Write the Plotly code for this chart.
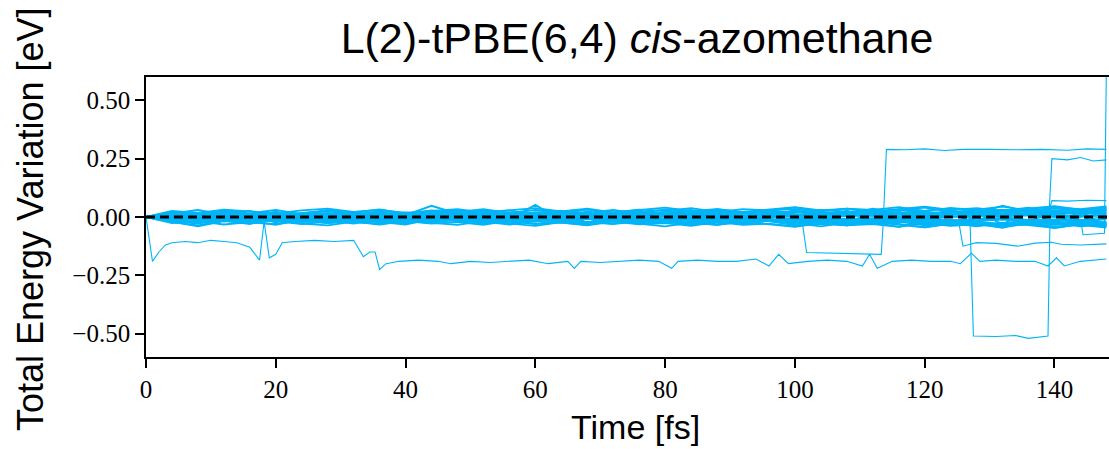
import plotly.graph_objects as go

# ---- shared time grid for the trajectories that stay in the band (fs) ----
t_band = [0, 4, 8, 12, 16, 20, 24, 28, 32, 36,
          40, 44, 48, 52, 56, 60, 64, 68, 72, 76,
          80, 84, 88, 92, 96, 100, 104, 108, 112, 116,
          120, 124, 128, 132, 136, 140, 144, 148]

band_1 = [0, 0.012, 0.008, -0.005, 0.015, 0.010, -0.008, 0.004, 0.018, 0.006,
          -0.010, 0.012, 0.020, 0.005, -0.004, 0.014, 0.022, 0.008, -0.006, 0.010,
          0.018, 0.012, 0.002, 0.016, 0.024, 0.010, 0.004, 0.018, 0.026, 0.012,
          0.006, 0.020, 0.028, 0.014, 0.008, 0.022, 0.030, 0.018]
band_2 = [0, -0.010, -0.004, 0.006, -0.014, -0.008, 0.004, -0.012, -0.018, -0.006,
          0.002, -0.016, -0.010, 0.000, -0.012, -0.020, -0.008, 0.004, -0.014, -0.022,
          -0.010, -0.002, -0.016, -0.024, -0.012, -0.004, -0.018, -0.026, -0.014, -0.006,
          -0.020, -0.028, -0.016, -0.008, -0.022, -0.030, -0.018, -0.010]
band_3 = [0, 0.020, 0.004, 0.014, 0.026, 0.002, 0.010, 0.030, 0.012, 0.000,
          0.016, 0.024, 0.006, 0.018, 0.028, 0.008, 0.012, 0.034, 0.014, 0.004,
          0.020, 0.030, 0.010, 0.016, 0.026, 0.012, 0.008, 0.022, 0.032, 0.014,
          0.010, 0.024, 0.018, 0.026, 0.040, 0.020, 0.016, 0.028]
band_4 = [0, -0.022, -0.036, -0.016, -0.030, -0.004, -0.012, -0.026, -0.010, -0.020,
          -0.032, -0.008, -0.018, -0.028, -0.012, -0.006, -0.024, -0.034, -0.014, -0.010,
          -0.026, -0.020, -0.008, -0.030, -0.016, -0.012, -0.028, -0.036, -0.018, -0.014,
          -0.032, -0.024, -0.040, -0.026, -0.018, -0.034, -0.022, -0.030]
band_5 = [0, 0.006, -0.002, 0.004, 0.000, 0.008, -0.004, 0.002, 0.006, -0.006,
          0.004, 0.010, 0.000, -0.004, 0.008, 0.002, -0.002, 0.006, 0.012, 0.000,
          0.004, 0.008, -0.004, 0.006, 0.010, 0.002, -0.002, 0.008, 0.012, 0.004,
          0.000, 0.010, 0.006, 0.002, 0.012, 0.008, 0.004, 0.010]
band_6 = [0, -0.006, 0.002, -0.004, -0.008, 0.000, -0.006, 0.004, -0.002, -0.010,
          -0.004, 0.002, -0.008, -0.012, -0.002, 0.000, -0.006, -0.010, -0.004, 0.002,
          -0.008, -0.012, -0.006, -0.002, -0.010, -0.014, -0.004, -0.008, -0.012, -0.006,
          -0.010, -0.016, -0.008, -0.004, -0.012, -0.010, -0.014, -0.008]
band_7 = [0, 0.015, 0.030, 0.010, 0.004, 0.020, 0.012, -0.002, 0.010, 0.024,
          0.008, 0.048, 0.014, 0.010, 0.006, 0.018, 0.012, 0.004, 0.016, 0.024,
          0.010, 0.014, 0.030, 0.016, 0.008, 0.022, 0.014, 0.010, 0.036, 0.018,
          0.012, 0.026, 0.016, 0.048, 0.022, 0.014, 0.020, 0.026]
band_8 = [0, -0.012, -0.026, -0.008, -0.018, -0.034, -0.010, -0.004, -0.020, -0.012,
          -0.028, -0.006, -0.016, -0.024, -0.010, 0.052, -0.014, -0.030, -0.012, -0.006,
          -0.022, -0.016, -0.032, -0.010, -0.018, -0.036, -0.014, -0.008, -0.024, -0.042,
          -0.020, -0.012, -0.028, -0.046, -0.016, -0.022, -0.038, -0.020]
band_9 = [0, 0.010, 0.018, 0.024, 0.012, 0.006, 0.016, 0.028, 0.020, 0.008,
          0.014, 0.022, 0.030, 0.016, 0.010, 0.020, 0.026, 0.014, 0.008, 0.018,
          0.032, 0.022, 0.012, 0.016, 0.028, 0.034, 0.020, 0.014, 0.024, 0.030,
          0.040, 0.022, 0.018, 0.028, 0.036, 0.024, 0.030, 0.042]
band_10 = [0, -0.016, -0.024, -0.012, -0.006, -0.018, -0.030, -0.020, -0.010, -0.014,
           -0.026, -0.016, -0.008, -0.020, -0.032, -0.018, -0.012, -0.022, -0.028, -0.014,
           -0.010, -0.024, -0.034, -0.020, -0.016, -0.026, -0.040, -0.024, -0.018, -0.030,
           -0.044, -0.028, -0.022, -0.034, -0.026, -0.048, -0.030, -0.036]
band_11 = [0, 0.004, 0.010, 0.014, 0.008, 0.016, 0.006, 0.012, 0.018, 0.010,
           0.004, 0.014, 0.008, 0.016, 0.020, 0.012, 0.006, 0.014, 0.010, 0.018,
           0.008, 0.012, 0.020, 0.016, 0.010, 0.006, 0.014, 0.020, 0.012, 0.018,
           0.022, 0.014, 0.010, 0.016, 0.024, 0.018, 0.012, 0.020]
band_12 = [0, -0.004, -0.010, -0.016, -0.008, -0.002, -0.012, -0.018, -0.006, -0.010,
           -0.014, -0.004, -0.012, -0.020, -0.010, -0.006, -0.016, -0.008, -0.014, -0.022,
           -0.012, -0.006, -0.018, -0.010, -0.016, -0.024, -0.014, -0.008, -0.020, -0.012,
           -0.018, -0.026, -0.016, -0.010, -0.022, -0.014, -0.020, -0.028]
band_13 = [0, 0.008, 0.014, 0.006, 0.012, 0.018, 0.010, 0.016, 0.008, 0.014,
           0.020, 0.012, 0.006, 0.016, 0.010, 0.018, 0.012, 0.022, 0.014, 0.008,
           0.018, 0.024, 0.012, 0.020, 0.014, 0.026, 0.016, 0.022, 0.018, 0.028,
           0.020, 0.016, 0.026, 0.030, 0.022, 0.028, 0.024, 0.032]
band_14 = [0, -0.008, -0.014, -0.004, -0.012, -0.018, -0.008, -0.016, -0.010, -0.004,
           -0.014, -0.020, -0.010, -0.016, -0.006, -0.018, -0.012, -0.022, -0.014, -0.010,
           -0.020, -0.016, -0.024, -0.012, -0.018, -0.026, -0.016, -0.022, -0.030, -0.018,
           -0.024, -0.020, -0.028, -0.034, -0.022, -0.026, -0.032, -0.028]
band_15 = [0, 0.002, 0.006, 0.010, 0.004, 0.000, 0.008, 0.012, 0.004, 0.010,
           0.006, 0.002, 0.012, 0.008, 0.004, 0.014, 0.006, 0.010, 0.002, 0.012,
           0.016, 0.006, 0.010, 0.004, 0.014, 0.008, 0.018, 0.012, 0.006, 0.016,
           0.010, 0.020, 0.014, 0.008, 0.018, 0.012, 0.022, 0.016]
band_16 = [0, -0.002, -0.008, -0.004, 0.002, -0.006, -0.010, -0.002, -0.008, 0.000,
           -0.006, -0.012, -0.004, -0.010, -0.002, -0.008, -0.014, -0.006, -0.010, -0.004,
           -0.012, -0.008, -0.016, -0.006, -0.012, -0.018, -0.010, -0.014, -0.008, -0.016,
           -0.020, -0.012, -0.018, -0.010, -0.022, -0.016, -0.012, -0.024]
band_17 = [0, 0.014, 0.006, 0.020, 0.010, 0.002, 0.016, 0.024, 0.012, 0.018,
           0.008, 0.022, 0.014, 0.028, 0.016, 0.010, 0.024, 0.018, 0.030, 0.014,
           0.022, 0.016, 0.034, 0.020, 0.026, 0.018, 0.030, 0.024, 0.016, 0.032,
           0.026, 0.038, 0.022, 0.030, 0.024, 0.036, 0.028, 0.034]
band_18 = [0, -0.014, -0.020, -0.008, -0.024, -0.012, -0.018, -0.006, -0.022, -0.028,
           -0.014, -0.020, -0.010, -0.026, -0.018, -0.030, -0.016, -0.022, -0.012, -0.028,
           -0.020, -0.034, -0.018, -0.026, -0.014, -0.030, -0.022, -0.032, -0.026, -0.020,
           -0.036, -0.028, -0.024, -0.038, -0.030, -0.026, -0.040, -0.032]
band_19 = [0, 0.000, 0.004, -0.002, 0.002, 0.006, -0.004, 0.000, 0.004, 0.002,
           -0.002, 0.006, 0.000, 0.004, -0.004, 0.002, 0.006, 0.000, -0.002, 0.004,
           0.008, 0.002, -0.002, 0.006, 0.002, 0.008, 0.000, 0.004, 0.010, 0.002,
           0.006, 0.000, 0.008, 0.004, 0.010, 0.002, 0.006, 0.008]
band_20 = [0, -0.020, -0.040, -0.018, -0.026, -0.014, -0.022, -0.016, -0.028, -0.010,
           -0.020, -0.024, -0.012, -0.018, -0.026, -0.016, -0.010, -0.022, -0.030, -0.018,
           -0.014, -0.024, -0.020, -0.028, -0.016, -0.022, -0.032, -0.020, -0.026, -0.018,
           -0.030, -0.036, -0.022, -0.028, -0.034, -0.024, -0.030, -0.038]
band_21 = [0, 0.022, 0.010, 0.028, 0.016, 0.030, 0.012, 0.026, 0.020, 0.032,
           0.014, 0.028, 0.022, 0.034, 0.018, 0.030, 0.024, 0.036, 0.020, 0.032,
           0.026, 0.038, 0.022, 0.034, 0.028, 0.040, 0.024, 0.036, 0.030, 0.042,
           0.026, 0.038, 0.032, 0.044, 0.028, 0.040, 0.034, 0.046]
band_22 = [0, -0.018, -0.028, -0.012, -0.024, -0.030, -0.016, -0.026, -0.020, -0.032,
           -0.018, -0.028, -0.022, -0.034, -0.016, -0.030, -0.024, -0.036, -0.020, -0.032,
           -0.026, -0.038, -0.022, -0.034, -0.028, -0.040, -0.024, -0.036, -0.030, -0.042,
           -0.026, -0.038, -0.032, -0.044, -0.028, -0.040, -0.034, -0.046]
band_23 = [0, 0.016, -0.010, 0.020, -0.006, 0.024, -0.012, 0.018, -0.004, 0.026,
           -0.014, 0.022, -0.008, 0.028, -0.010, 0.020, -0.016, 0.024, -0.006, 0.030,
           -0.012, 0.026, -0.018, 0.022, -0.010, 0.032, -0.014, 0.028, -0.020, 0.024,
           -0.016, 0.034, -0.018, 0.030, -0.022, 0.026, -0.020, 0.036]
band_24 = [0, -0.014, 0.012, -0.020, 0.008, -0.024, 0.014, -0.018, 0.006, -0.026,
           0.016, -0.022, 0.010, -0.028, 0.012, -0.020, 0.018, -0.024, 0.008, -0.030,
           0.014, -0.026, 0.020, -0.022, 0.010, -0.032, 0.016, -0.028, 0.022, -0.024,
           0.018, -0.034, 0.020, -0.030, 0.024, -0.026, 0.022, -0.036]
band_25 = [0, 0.026, 0.018, 0.032, 0.024, 0.016, 0.028, 0.036, 0.022, 0.030,
           0.018, 0.026, 0.034, 0.020, 0.028, 0.038, 0.024, 0.032, 0.020, 0.030,
           0.040, 0.026, 0.034, 0.022, 0.032, 0.042, 0.028, 0.036, 0.024, 0.034,
           0.044, 0.030, 0.038, 0.026, 0.036, 0.046, 0.032, 0.040]
band_26 = [0, -0.026, -0.018, -0.032, -0.022, -0.014, -0.028, -0.036, -0.020, -0.030,
           -0.016, -0.026, -0.034, -0.018, -0.028, -0.038, -0.022, -0.032, -0.018, -0.030,
           -0.040, -0.024, -0.034, -0.020, -0.032, -0.042, -0.026, -0.036, -0.022, -0.034,
           -0.044, -0.028, -0.038, -0.024, -0.036, -0.046, -0.030, -0.040]

band_series = [band_1, band_2, band_3, band_4, band_5, band_6, band_7, band_8, band_9, band_10,
               band_11, band_12, band_13, band_14, band_15, band_16, band_17, band_18, band_19, band_20,
               band_21, band_22, band_23, band_24, band_25, band_26]

# ---- trajectories with jumps (own time samples) ----
low_t = [0, 1, 2, 3, 4, 6, 8, 10, 12, 14,
         16, 17.5, 18.2, 19, 20, 21, 23, 26, 29, 32,
         33.5, 34.5, 35.3, 36, 37, 39, 42, 45, 47, 50,
         53, 56, 59, 62, 65, 66, 67, 70, 73, 76,
         79, 81, 82, 85, 88, 91, 94, 96, 97.5, 99,
         102, 105, 108, 110.4, 111.5, 112.7, 115, 118, 121, 124,
         125.5, 127.2, 128.5, 131, 134, 137, 139, 140.3, 141.5, 144,
         148]
low_y = [0, -0.19, -0.15, -0.12, -0.11, -0.105, -0.11, -0.10, -0.105, -0.11,
         -0.13, -0.185, -0.02, -0.175, -0.16, -0.11, -0.105, -0.10, -0.105, -0.10,
         -0.17, -0.15, -0.15, -0.225, -0.20, -0.19, -0.185, -0.19, -0.20, -0.19,
         -0.195, -0.19, -0.185, -0.20, -0.19, -0.22, -0.19, -0.195, -0.19, -0.185,
         -0.19, -0.22, -0.19, -0.185, -0.19, -0.19, -0.18, -0.21, -0.16, -0.20,
         -0.19, -0.185, -0.19, -0.21, -0.16, -0.22, -0.19, -0.185, -0.19, -0.19,
         -0.20, -0.155, -0.19, -0.185, -0.19, -0.19, -0.21, -0.175, -0.21, -0.19,
         -0.18]

box16_t = [0, 8, 16, 24, 32, 40, 48, 56, 64, 72, 80, 88, 96, 101.2, 101.8,
           105, 109, 113.3, 113.6, 118, 124, 130, 136, 142, 148]
box16_y = [0, -0.01, 0.005, -0.015, -0.005, 0.01, -0.012, 0.004, -0.008, 0.006, -0.014, 0.002, -0.006, -0.035, -0.152,
           -0.155, -0.158, -0.16, -0.03, -0.012, 0.004, -0.01, 0.006, -0.004, 0.008]

up29_t = [0, 10, 20, 30, 40, 50, 60, 70, 80, 90, 100, 108, 113.7, 114.1,
          117, 120, 123, 126, 130, 134, 138, 142, 145, 148]
up29_y = [0, 0.012, -0.006, 0.014, 0.004, 0.018, 0.008, 0.020, 0.006, 0.016, 0.022, 0.012, 0.035, 0.29,
          0.288, 0.292, 0.285, 0.29, 0.29, 0.288, 0.29, 0.286, 0.292, 0.29]

box51_t = [0, 12, 24, 36, 48, 60, 72, 84, 96, 108, 118, 124, 127.0, 127.5,
           131, 134, 136, 139.0, 139.3, 142, 145, 148]
box51_y = [0, -0.008, 0.006, -0.012, 0.004, -0.006, 0.010, -0.004, 0.008, -0.010, 0.004, -0.012, -0.03, -0.51,
           -0.512, -0.508, -0.52, -0.51, -0.025, -0.01, 0.004, -0.006]

low12_t = [0, 12, 24, 36, 48, 60, 72, 84, 96, 108, 118, 125.3, 125.9,
           128, 131, 134.3, 137, 139.5, 141, 144, 148]
low12_y = [0, 0.006, -0.01, 0.008, -0.004, 0.012, -0.008, 0.006, -0.012, 0.004, -0.02, -0.03, -0.125,
           -0.11, -0.113, -0.125, -0.112, -0.108, -0.117, -0.12, -0.115]

up25_t = [0, 12, 24, 36, 48, 60, 72, 84, 96, 108, 120, 130, 139.2, 139.6,
          142, 144, 146, 148]
up25_y = [0, 0.01, -0.004, 0.012, 0.002, 0.016, -0.002, 0.010, 0.004, 0.014, 0.006, 0.018, 0.035, 0.25,
          0.245, 0.255, 0.24, 0.245]

up07_t = [0, 12, 24, 36, 48, 60, 72, 84, 96, 108, 120, 130, 139.2, 139.6,
          142, 145, 148]
up07_y = [0, -0.006, 0.008, -0.002, 0.012, 0.004, 0.010, -0.004, 0.014, 0.006, 0.012, 0.020, 0.03, 0.07,
          0.068, 0.072, 0.07]

box08_t = [0, 12, 24, 36, 48, 60, 72, 84, 96, 108, 120, 132, 140, 144.0, 144.4,
           146, 147.7, 148]
box08_y = [0, 0.008, -0.006, 0.004, -0.010, 0.006, -0.004, 0.012, -0.002, 0.008, -0.006, 0.010, 0.004, -0.01, -0.076,
           -0.074, -0.07, 0.65]

special = [(low_t, low_y), (box16_t, box16_y), (up29_t, up29_y), (box51_t, box51_y),
           (low12_t, low12_y), (up25_t, up25_y), (up07_t, up07_y), (box08_t, box08_y)]

y_ticks = [-0.5, -0.25, 0.0, 0.25, 0.5]
x_ticks = [0, 20, 40, 60, 80, 100, 120, 140]

LINE = "#00B5F7"

fig = go.Figure()
for ys in band_series:
    assert len(ys) == len(t_band)
    fig.add_trace(go.Scatter(x=t_band, y=ys, mode="lines",
                             line=dict(color=LINE, width=1.8), showlegend=False, hoverinfo="skip"))
for tt, yy in special:
    assert len(tt) == len(yy)
    fig.add_trace(go.Scatter(x=tt, y=yy, mode="lines",
                             line=dict(color=LINE, width=1.1), showlegend=False, hoverinfo="skip"))

fig.add_hline(y=0, line=dict(color="black", width=3, dash="9px,5px"), layer="above")

W, H = 1109, 449
L, R, T, B = 146, 0, 77, 92
pw, ph = W - L - R, H - T - B

fig.update_layout(
    width=W, height=H,
    margin=dict(l=L, r=R, t=T, b=B, pad=0),
    plot_bgcolor="white", paper_bgcolor="white",
    title=dict(text="L(2)-tPBE(6,4) <i>cis</i>-azomethane",
               font=dict(family="Liberation Sans", size=43, color="black"),
               x=637 / W, xanchor="center", xref="container",
               y=1 - 38 / H, yanchor="middle", yref="container"),
    xaxis=dict(range=[0, 148.4], tickvals=x_ticks, ticks="outside", ticklen=9, tickwidth=1.5,
               tickcolor="black", showline=True, linecolor="black", linewidth=1.6, mirror=True,
               showgrid=False, zeroline=False,
               tickfont=dict(family="Liberation Serif", size=25, color="black")),
    yaxis=dict(range=[-0.6, 0.6], tickvals=y_ticks, tickformat=".2f", ticks="outside", ticklen=9,
               tickwidth=1.5, tickcolor="black", showline=True, linecolor="black", linewidth=1.6,
               mirror=False, showgrid=False, zeroline=False,
               tickfont=dict(family="Liberation Serif", size=25, color="black")),
    annotations=[
        dict(text="Time [fs]", xref="paper", yref="paper",
             x=(635 - L) / pw, y=(H - B - 427) / ph, xanchor="center", yanchor="middle",
             showarrow=False, font=dict(family="Liberation Sans", size=34, color="black")),
        dict(text="Total Energy Variation [eV]", xref="paper", yref="paper", textangle=-90,
             x=(30 - L) / pw, y=(H - B - 219) / ph, xanchor="center", yanchor="middle",
             showarrow=False, font=dict(family="Liberation Sans", size=36, color="black")),
    ],
)

fig.write_html("out.html", config={"displayModeBar": False},
               post_script=["document.body.style.margin='0px';"])
